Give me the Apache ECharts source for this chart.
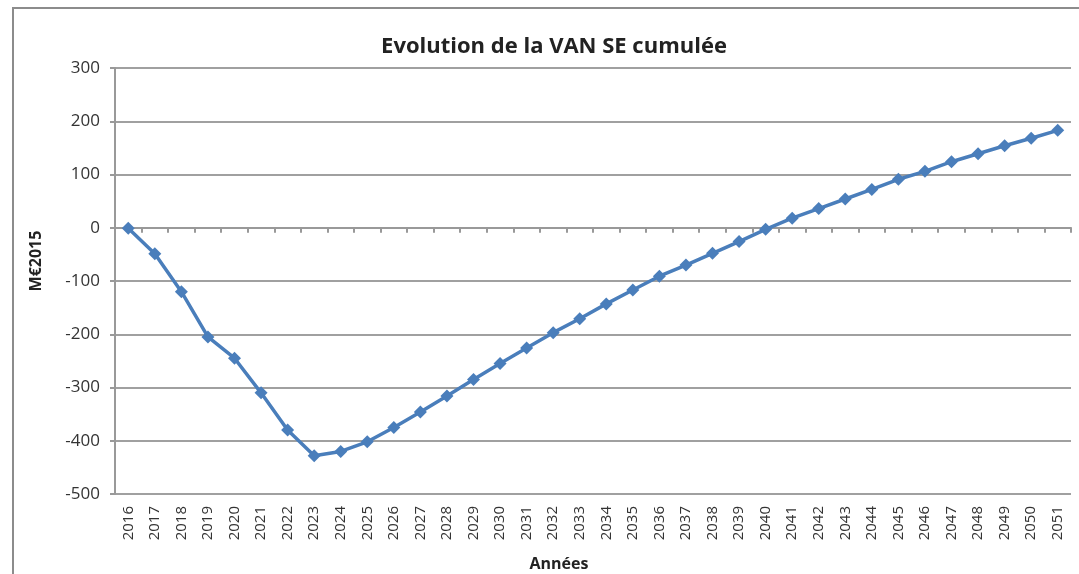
<!DOCTYPE html>
<html>
<head>
<meta charset="utf-8">
<script src="https://cdn.jsdelivr.net/npm/echarts@6/dist/echarts.min.js"></script>
<style>
  html, body { margin: 0; padding: 0; background: #fff; }
  #chart { width: 1079px; height: 574px; }
</style>
</head>
<body>
<div id="chart"></div>
<script>
// years on the x axis
var years = ['2016','2017','2018','2019','2020','2021','2022','2023','2024','2025',
  '2026','2027','2028','2029','2030','2031','2032','2033','2034','2035',
  '2036','2037','2038','2039','2040','2041','2042','2043','2044','2045',
  '2046','2047','2048','2049','2050','2051']

// VAN SE cumulée (M€2015)
var van = [-1, -49, -120, -205, -245, -310, -380, -428, -420, -402,
  -375, -346, -316, -285, -255, -226, -197, -171, -143, -117,
  -91, -70, -48, -26, -3, 18, 36, 54, 72, 91,
  106, 124, 139, 154, 168, 183]

var yTicks = [-500, 300, 100]  // min, max, interval

var font = 'Open Sans'

chart = {
  animation: false,
  graphic: [
    {
      type: 'rect',
      shape: { x: 13, y: 8, width: 1080, height: 580 },
      style: { fill: 'none', stroke: '#8c8c8c', lineWidth: 2 },
      silent: true
    }
  ],
  title: {
    text: 'Evolution de la VAN SE cumulée',
    left: 549,
    textAlign: 'center',
    top: 31,
    textStyle: { fontFamily: font, fontSize: 22, fontWeight: 'bold', color: '#222' }
  },
  grid: { left: 115, right: 8, top: 68, bottom: 80, outerBoundsMode: 'none', containLabel: false },
  xAxis: {
    type: 'category',
    data: years,
    boundaryGap: true,
    name: 'Années',
    nameLocation: 'middle',
    nameGap: 62,
    nameTextStyle: { fontFamily: font, fontSize: 16, fontWeight: 'bold', color: '#222', padding: [0, 68, 0, 0] },
    axisLine: { lineStyle: { color: '#999', width: 2 } },
    axisTick: { show: true, length: 5, lineStyle: { color: '#999', width: 2 } },
    axisLabel: { rotate: 90, interval: 0, fontFamily: font, fontSize: 15, color: '#333', margin: 12 }
  },
  yAxis: {
    type: 'value',
    min: yTicks[0],
    max: yTicks[1],
    interval: yTicks[2],
    name: 'M€2015',
    nameLocation: 'middle',
    nameGap: 71,
    nameTextStyle: { fontFamily: font, fontSize: 16, fontWeight: 'bold', color: '#222', padding: [0, 0, 0, 40] },
    axisLine: { show: true, lineStyle: { color: '#999', width: 2 } },
    axisTick: { show: true, inside: false, length: 5, lineStyle: { color: '#999', width: 2 } },
    axisLabel: { fontFamily: font, fontSize: 17, color: '#333', margin: 15 },
    splitLine: { lineStyle: { color: '#a0a0a0', width: 2 } }
  },
  series: [
    {
      type: 'line',
      data: van,
      color: '#4a7ebb',
      symbol: 'diamond',
      symbolSize: 13,
      lineStyle: { width: 3.5, color: '#4a7ebb' },
      itemStyle: { color: '#4a7ebb' }
    }
  ]
}

echarts.init(document.getElementById('chart')).setOption(chart)
</script>
</body>
</html>
